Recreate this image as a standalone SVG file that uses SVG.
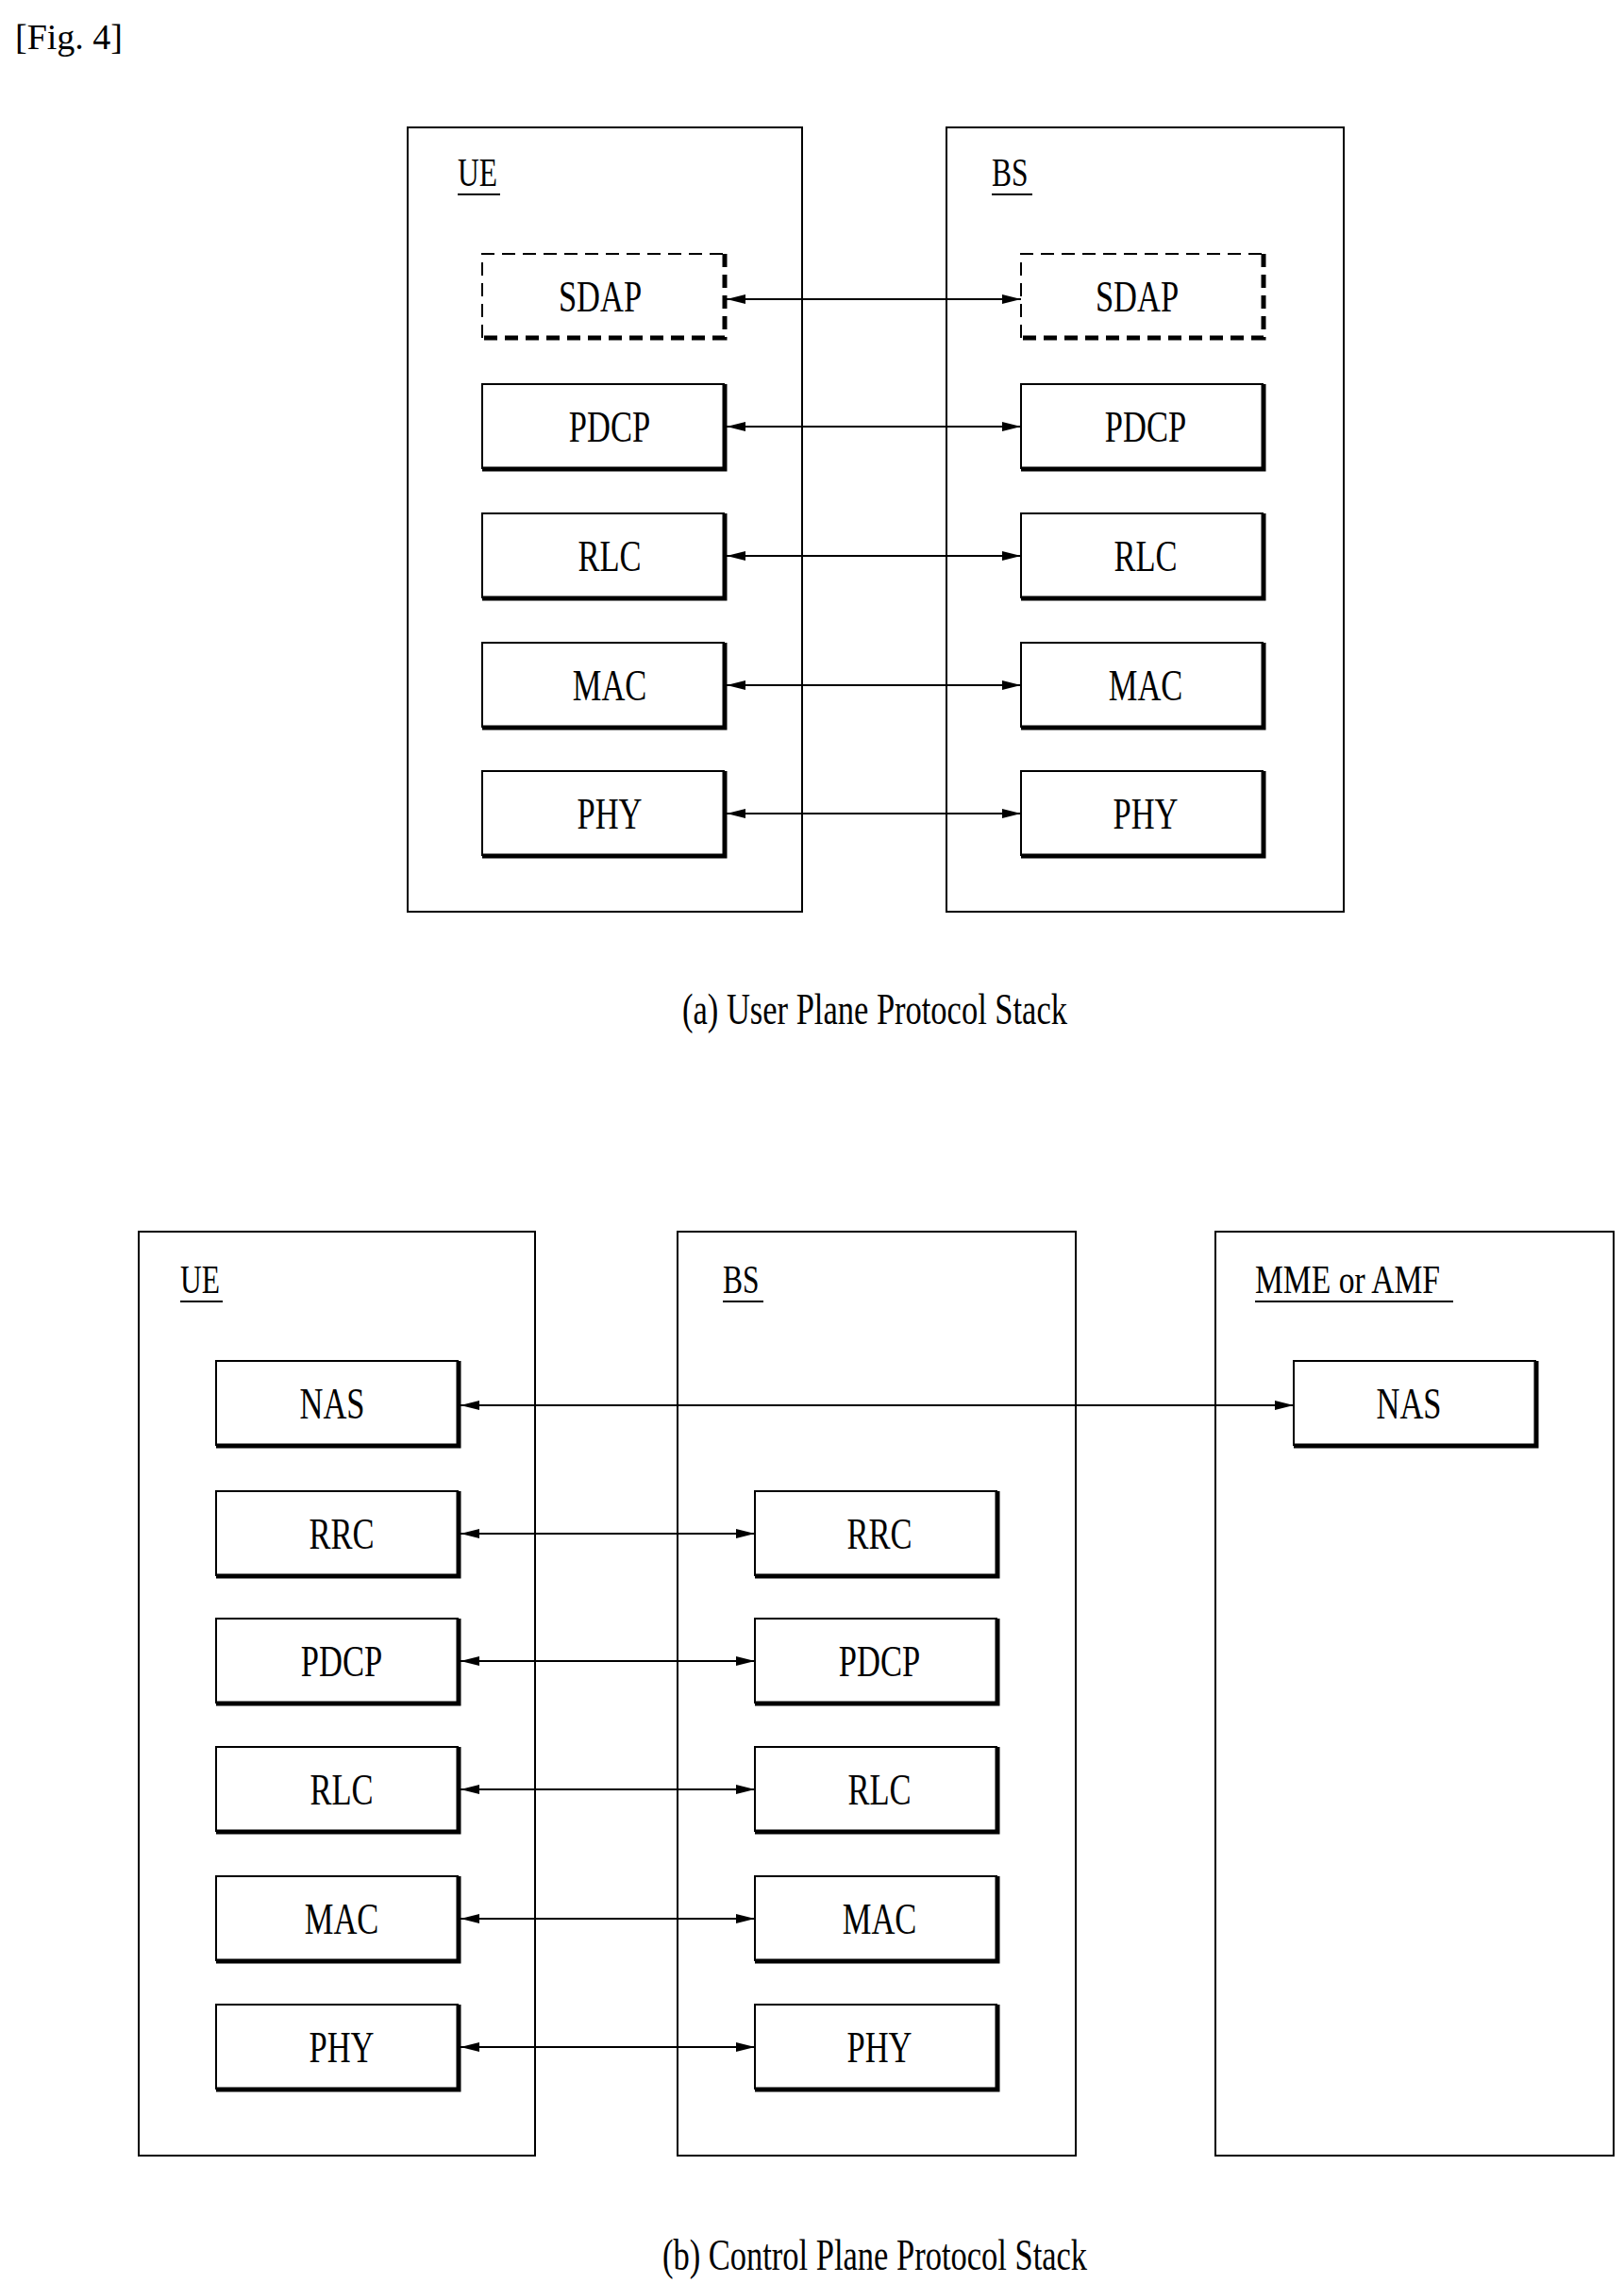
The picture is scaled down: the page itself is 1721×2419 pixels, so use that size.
<svg xmlns="http://www.w3.org/2000/svg" width="1721" height="2419" viewBox="0 0 1721 2419">
<style>
.t{font-family:"Liberation Serif",serif;font-size:46px;text-anchor:middle;fill:#000}
.l{font-family:"Liberation Serif",serif;font-size:42px;fill:#000}
.c{fill:none;stroke:#000;stroke-width:2}
.a{stroke:#000;stroke-width:2;fill:none}
</style>
<defs>
<marker id="ah" viewBox="0 0 20 10" refX="20" refY="5" markerWidth="20" markerHeight="10" markerUnits="userSpaceOnUse" orient="auto-start-reverse"><path d="M0,0 L20,5 L0,10 Z" fill="#000"/></marker>
<g id="bx"><path d="M0,90 L0,0 L257,0" class="c"/><path d="M257,0 L257,90 L0,90" fill="none" stroke="#000" stroke-width="5"/></g>
</defs>
<rect width="1721" height="2419" fill="#fff"/>
<text x="16" y="52" style="font-family:'Liberation Serif',serif;font-size:38px">[Fig. 4]</text>

<g id="ue-a"><rect x="432" y="135" width="418" height="831" class="c"/><text class="l" transform="translate(485,197) scale(0.75,1)">UE</text><line x1="485" y1="206" x2="530" y2="206" stroke="#000" stroke-width="2"/></g>
<g id="bs-a"><rect x="1003" y="135" width="421" height="831" class="c"/><text class="l" transform="translate(1051,197) scale(0.75,1)">BS</text><line x1="1051" y1="206" x2="1094" y2="206" stroke="#000" stroke-width="2"/></g>

<g id="ue-sdap"><path d="M511,358 L511,269 L768,269" class="c" stroke-dasharray="14,8"/><path d="M768,269 L768,358 L511,358" fill="none" stroke="#000" stroke-width="5" stroke-dasharray="14,8"/><text class="t" transform="translate(636,330) scale(0.75,1)">SDAP</text></g>
<g id="bs-sdap"><path d="M1082,358 L1082,269 L1339,269" class="c" stroke-dasharray="14,8"/><path d="M1339,269 L1339,358 L1082,358" fill="none" stroke="#000" stroke-width="5" stroke-dasharray="14,8"/><text class="t" transform="translate(1205,330) scale(0.75,1)">SDAP</text></g>
<g id="ue-pdcp"><use href="#bx" x="511" y="407"/><text class="t" transform="translate(646,468) scale(0.75,1)">PDCP</text></g>
<g id="bs-pdcp"><use href="#bx" x="1082" y="407"/><text class="t" transform="translate(1214,468) scale(0.75,1)">PDCP</text></g>
<g id="ue-rlc"><use href="#bx" x="511" y="544"/><text class="t" transform="translate(646,605) scale(0.75,1)">RLC</text></g>
<g id="bs-rlc"><use href="#bx" x="1082" y="544"/><text class="t" transform="translate(1214,605) scale(0.75,1)">RLC</text></g>
<g id="ue-mac"><use href="#bx" x="511" y="681"/><text class="t" transform="translate(646,742) scale(0.75,1)">MAC</text></g>
<g id="bs-mac"><use href="#bx" x="1082" y="681"/><text class="t" transform="translate(1214,742) scale(0.75,1)">MAC</text></g>
<g id="ue-phy"><use href="#bx" x="511" y="817"/><text class="t" transform="translate(646,878) scale(0.75,1)">PHY</text></g>
<g id="bs-phy"><use href="#bx" x="1082" y="817"/><text class="t" transform="translate(1214,878) scale(0.75,1)">PHY</text></g>

<text class="t" font-size="42" transform="translate(927,1085) scale(0.75,1)">(a) User Plane Protocol Stack</text>

<g id="ue-b"><rect x="147" y="1305" width="420" height="979" class="c"/><text class="l" transform="translate(191,1370) scale(0.75,1)">UE</text><line x1="191" y1="1379" x2="236" y2="1379" stroke="#000" stroke-width="2"/></g>
<g id="bs-b"><rect x="718" y="1305" width="422" height="979" class="c"/><text class="l" transform="translate(766,1370) scale(0.75,1)">BS</text><line x1="766" y1="1379" x2="809" y2="1379" stroke="#000" stroke-width="2"/></g>
<g id="mme"><rect x="1288" y="1305" width="422" height="979" class="c"/><text class="l" transform="translate(1330,1370) scale(0.8,1)">MME or AMF</text><line x1="1330" y1="1379" x2="1540" y2="1379" stroke="#000" stroke-width="2"/></g>

<g id="ue-nas"><use href="#bx" x="229" y="1442"/><text class="t" transform="translate(352,1503) scale(0.75,1)">NAS</text></g>
<g id="mme-nas"><use href="#bx" x="1371" y="1442"/><text class="t" transform="translate(1493,1503) scale(0.75,1)">NAS</text></g>
<g id="ue-rrc"><use href="#bx" x="229" y="1580"/><text class="t" transform="translate(362,1641) scale(0.75,1)">RRC</text></g>
<g id="bs-rrc"><use href="#bx" x="800" y="1580"/><text class="t" transform="translate(932,1641) scale(0.75,1)">RRC</text></g>
<g id="ue-pdcp-b"><use href="#bx" x="229" y="1715"/><text class="t" transform="translate(362,1776) scale(0.75,1)">PDCP</text></g>
<g id="bs-pdcp-b"><use href="#bx" x="800" y="1715"/><text class="t" transform="translate(932,1776) scale(0.75,1)">PDCP</text></g>
<g id="ue-rlc-b"><use href="#bx" x="229" y="1851"/><text class="t" transform="translate(362,1912) scale(0.75,1)">RLC</text></g>
<g id="bs-rlc-b"><use href="#bx" x="800" y="1851"/><text class="t" transform="translate(932,1912) scale(0.75,1)">RLC</text></g>
<g id="ue-mac-b"><use href="#bx" x="229" y="1988"/><text class="t" transform="translate(362,2049) scale(0.75,1)">MAC</text></g>
<g id="bs-mac-b"><use href="#bx" x="800" y="1988"/><text class="t" transform="translate(932,2049) scale(0.75,1)">MAC</text></g>
<g id="ue-phy-b"><use href="#bx" x="229" y="2124"/><text class="t" transform="translate(362,2185) scale(0.75,1)">PHY</text></g>
<g id="bs-phy-b"><use href="#bx" x="800" y="2124"/><text class="t" transform="translate(932,2185) scale(0.75,1)">PHY</text></g>

<text class="t" font-size="42" transform="translate(927,2405) scale(0.75,1)">(b) Control Plane Protocol Stack</text>

<g id="connectors" class="a" marker-start="url(#ah)" marker-end="url(#ah)">
<line x1="770" y1="317" x2="1082" y2="317"/>
<line x1="770" y1="452" x2="1082" y2="452"/>
<line x1="770" y1="589" x2="1082" y2="589"/>
<line x1="770" y1="726" x2="1082" y2="726"/>
<line x1="770" y1="862" x2="1082" y2="862"/>
<line x1="488" y1="1489" x2="1371" y2="1489"/>
<line x1="488" y1="1625" x2="800" y2="1625"/>
<line x1="488" y1="1760" x2="800" y2="1760"/>
<line x1="488" y1="1896" x2="800" y2="1896"/>
<line x1="488" y1="2033" x2="800" y2="2033"/>
<line x1="488" y1="2169" x2="800" y2="2169"/>
</g>
</svg>
